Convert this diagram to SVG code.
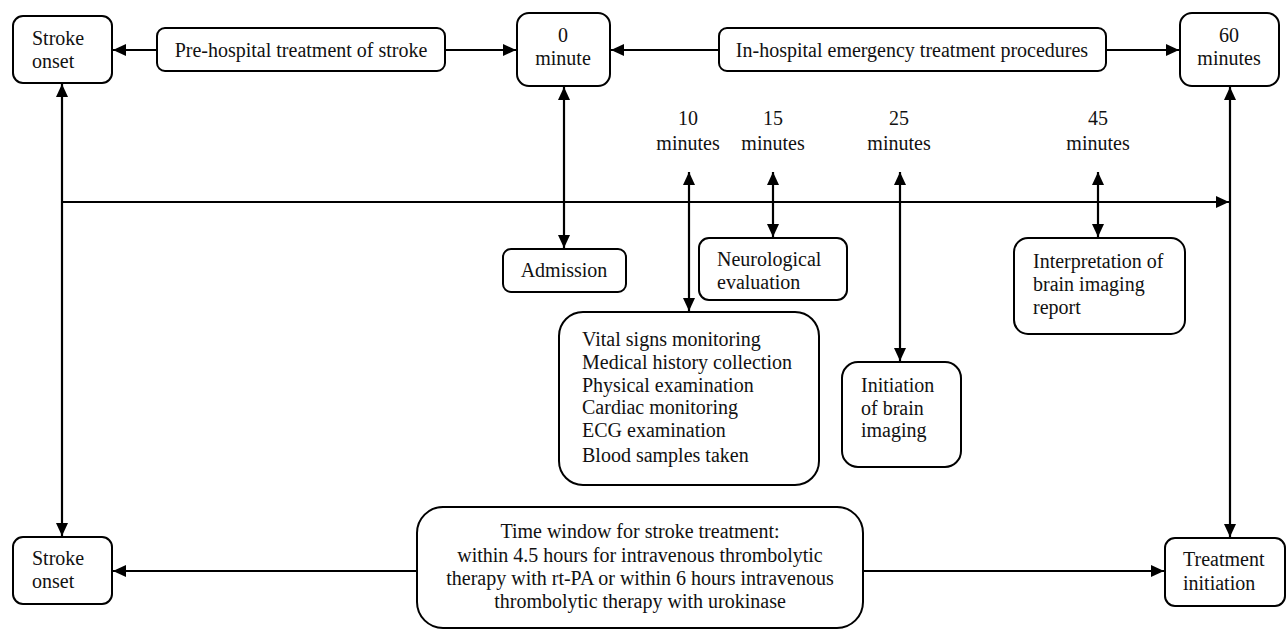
<svg xmlns="http://www.w3.org/2000/svg" width="1286" height="631" viewBox="0 0 1286 631">
<style>
.box{fill:#fff;stroke:#000;stroke-width:2}
.t{font-family:"Liberation Serif","Times New Roman",serif;font-size:20px;fill:#111}
.c{text-anchor:middle}
.ln{stroke:#000;stroke-width:2.2;fill:none}
</style>
<defs>
<marker id="ah" markerUnits="userSpaceOnUse" markerWidth="14" markerHeight="12" refX="13" refY="6" orient="auto-start-reverse">
<path d="M0,0 L13,6 L0,12 Z" fill="#000"/>
</marker>
</defs>
<rect width="1286" height="631" fill="#fff"/>
<g id="connectors">
<line class="ln" x1="157" y1="50" x2="113" y2="50" marker-end="url(#ah)"/>
<line class="ln" x1="445" y1="50" x2="516" y2="50" marker-end="url(#ah)"/>
<line class="ln" x1="719" y1="50" x2="611" y2="50" marker-end="url(#ah)"/>
<line class="ln" x1="1106" y1="50" x2="1179" y2="50" marker-end="url(#ah)"/>
<line class="ln" x1="62" y1="84" x2="62" y2="536" marker-start="url(#ah)" marker-end="url(#ah)"/>
<line class="ln" x1="1230" y1="87" x2="1230" y2="537" marker-start="url(#ah)" marker-end="url(#ah)"/>
<line class="ln" x1="62" y1="202" x2="1229" y2="202" marker-end="url(#ah)"/>
<line class="ln" x1="564" y1="87" x2="564" y2="248" marker-start="url(#ah)" marker-end="url(#ah)"/>
<line class="ln" x1="689" y1="172" x2="689" y2="311" marker-start="url(#ah)" marker-end="url(#ah)"/>
<line class="ln" x1="773" y1="172" x2="773" y2="237" marker-start="url(#ah)" marker-end="url(#ah)"/>
<line class="ln" x1="900" y1="172" x2="900" y2="361" marker-start="url(#ah)" marker-end="url(#ah)"/>
<line class="ln" x1="1098" y1="172" x2="1098" y2="237" marker-start="url(#ah)" marker-end="url(#ah)"/>
<line class="ln" x1="417" y1="571" x2="113" y2="571" marker-end="url(#ah)"/>
<line class="ln" x1="863" y1="571" x2="1164" y2="571" marker-end="url(#ah)"/>
</g>
<g id="stroke-onset-top">
<rect class="box" x="13" y="16" width="99" height="67" rx="10"/>
<text class="t" x="32" y="45">Stroke</text>
<text class="t" x="32" y="68">onset</text>
</g>
<g id="pre-hospital">
<rect class="box" x="157" y="28" width="288" height="43" rx="8"/>
<text class="t c" x="301" y="57">Pre-hospital treatment of stroke</text>
</g>
<g id="zero-minute">
<rect class="box" x="517" y="13" width="93" height="73" rx="12"/>
<text class="t c" x="563" y="42">0</text>
<text class="t c" x="563" y="65">minute</text>
</g>
<g id="in-hospital">
<rect class="box" x="719" y="28" width="387" height="43" rx="8"/>
<text class="t c" x="912" y="57">In-hospital emergency treatment procedures</text>
</g>
<g id="sixty-minutes">
<rect class="box" x="1180" y="13" width="99" height="73" rx="12"/>
<text class="t c" x="1229" y="42">60</text>
<text class="t c" x="1229" y="65">minutes</text>
</g>
<g id="label-10">
<text class="t c" x="688" y="125">10</text>
<text class="t c" x="688" y="150">minutes</text>
</g>
<g id="label-15">
<text class="t c" x="773" y="125">15</text>
<text class="t c" x="773" y="150">minutes</text>
</g>
<g id="label-25">
<text class="t c" x="899" y="125">25</text>
<text class="t c" x="899" y="150">minutes</text>
</g>
<g id="label-45">
<text class="t c" x="1098" y="125">45</text>
<text class="t c" x="1098" y="150">minutes</text>
</g>
<g id="admission">
<rect class="box" x="503" y="249" width="123" height="43" rx="8"/>
<text class="t c" x="564" y="277">Admission</text>
</g>
<g id="neurological">
<rect class="box" x="699" y="238" width="148" height="62" rx="10"/>
<text class="t" x="717" y="266">Neurological</text>
<text class="t" x="717" y="289">evaluation</text>
</g>
<g id="interpretation">
<rect class="box" x="1014" y="238" width="171" height="96" rx="14"/>
<text class="t" x="1033" y="268">Interpretation of</text>
<text class="t" x="1033" y="291">brain imaging</text>
<text class="t" x="1033" y="314">report</text>
</g>
<g id="vital-signs">
<rect class="box" x="559" y="312" width="260" height="173" rx="24"/>
<text class="t" x="582" y="346">Vital signs monitoring</text>
<text class="t" x="582" y="369">Medical history collection</text>
<text class="t" x="582" y="392">Physical examination</text>
<text class="t" x="582" y="414">Cardiac monitoring</text>
<text class="t" x="582" y="437">ECG examination</text>
<text class="t" x="582" y="462">Blood samples taken</text>
</g>
<g id="initiation-imaging">
<rect class="box" x="842" y="362" width="119" height="105" rx="16"/>
<text class="t" x="861" y="392">Initiation</text>
<text class="t" x="861" y="415">of brain</text>
<text class="t" x="861" y="437">imaging</text>
</g>
<g id="stroke-onset-bottom">
<rect class="box" x="13" y="537" width="99" height="67" rx="10"/>
<text class="t" x="32" y="565">Stroke</text>
<text class="t" x="32" y="588">onset</text>
</g>
<g id="time-window">
<rect class="box" x="417" y="507" width="446" height="121" rx="26"/>
<text class="t c" x="640" y="538">Time window for stroke treatment:</text>
<text class="t c" x="640" y="562">within 4.5 hours for intravenous thrombolytic</text>
<text class="t c" x="640" y="585">therapy with rt-PA or within 6 hours intravenous</text>
<text class="t c" x="640" y="608">thrombolytic therapy with urokinase</text>
</g>
<g id="treatment-initiation">
<rect class="box" x="1165" y="538" width="120" height="68" rx="10"/>
<text class="t" x="1183" y="566">Treatment</text>
<text class="t" x="1183" y="590">initiation</text>
</g>
</svg>
